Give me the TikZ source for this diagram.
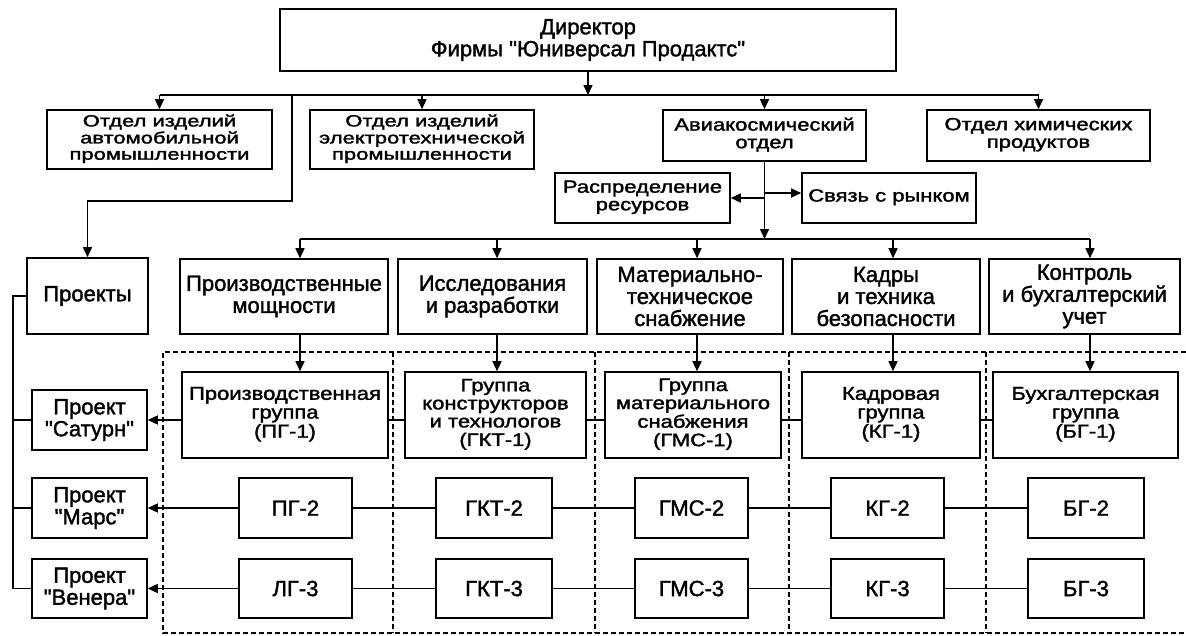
\documentclass[tikz,border=0pt]{standalone}
\usepackage{fontspec}
\setmainfont{Liberation Sans}[Ligatures=TeXOff,FakeBold=1.6]
\usetikzlibrary{arrows.meta}
\newcommand\sqz[2][0.8]{\scalebox{1}[#1]{\begin{tabular}{@{}c@{}}#2\end{tabular}}}
\newcommand\bx[6]{\node[box, minimum width={(#4)-(#2)}, minimum height={(#5)-(#3)}] (#1) at ({((#2)+(#4))/2},{((#3)+(#5))/2}) {#6};}
\begin{document}
\begin{tikzpicture}[x=1pt,y=-1pt,
  box/.style={draw, line width=1.6pt, inner sep=0pt, align=center, font=\fontsize{22}{22}\selectfont},
  arr/.style={line width=1.5pt, -{Triangle[length=10pt,width=9pt]}},
  ln/.style={line width=1.5pt},
  dsh/.style={line width=1.3pt, dash pattern=on 5pt off 3pt}]
\useasboundingbox (0,0) rectangle (1186,635);
\fill[white] (0,0) rectangle (1186,635);
% dashed frame
\draw[dsh] (1186,352) -- (163,352) -- (163,633) -- (1186,633);
\foreach \x in {393,595,789,986} \draw[dsh] (\x,352) -- (\x,633);
% boxes
\bx{dir}{280}{9}{896}{71}{Директор\\Фирмы "Юниверсал Продактс"}
\bx{auto}{47}{110}{272}{169}{\sqz[0.74]{Отдел изделий\\автомобильной\\промышленности}}
\bx{elec}{310}{110}{534}{169}{\sqz[0.74]{Отдел изделий\\электротехнической\\промышленности}}
\bx{avia}{663}{110}{866}{161}{\sqz{Авиакосмический\\отдел}}
\bx{chem}{927}{110}{1150}{161}{\sqz{Отдел химических\\продуктов}}
\bx{rasp}{555}{173}{730}{223}{\sqz{Распределение\\ресурсов}}
\bx{svz}{802}{173}{976}{223}{\sqz{Связь с рынком}}
\bx{proj}{27}{258}{148}{334}{Проекты}
\bx{prod}{180}{259}{388}{334}{Производственные\\мощности}
\bx{res}{398}{259}{587}{334}{Исследования\\и разработки}
\bx{mat}{597}{259}{783}{334}{Материально-\\техническое\\снабжение}
\bx{kad}{792}{259}{980}{334}{Кадры\\и техника\\безопасности}
\bx{kon}{989}{259}{1180}{334}{Контроль\\и бухгалтерский\\учет}
\bx{pg1}{182}{372}{388}{458}{\sqz[0.85]{Производственная\\группа\\(ПГ-1)}}
\bx{gkt1}{405}{372}{586}{458}{\sqz[0.82]{Группа\\конструкторов\\и технологов\\(ГКТ-1)}}
\bx{gms1}{605}{372}{781}{458}{\sqz[0.82]{Группа\\материального\\снабжения\\(ГМС-1)}}
\bx{kg1}{802}{372}{980}{458}{\sqz[0.85]{Кадровая\\группа\\(КГ-1)}}
\bx{bg1}{993}{372}{1178}{458}{\sqz[0.85]{Бухгалтерская\\группа\\(БГ-1)}}
\bx{sat}{32}{390}{147}{450}{Проект\\"Сатурн"}
\bx{mars}{32}{478}{147}{538}{Проект\\"Марс"}
\bx{ven}{32}{559}{147}{618}{Проект\\"Венера"}
\bx{pg2}{239}{478}{352}{538}{ПГ-2}
\bx{gkt2}{436}{478}{552}{538}{ГКТ-2}
\bx{gms2}{635}{478}{748}{538}{ГМС-2}
\bx{kg2}{831}{478}{944}{538}{КГ-2}
\bx{bg2}{1028}{478}{1144}{538}{БГ-2}
\bx{pg3}{239}{559}{352}{618}{ЛГ-3}
\bx{gkt3}{436}{559}{552}{618}{ГКТ-3}
\bx{gms3}{635}{559}{748}{618}{ГМС-3}
\bx{kg3}{831}{559}{944}{618}{КГ-3}
\bx{bg3}{1028}{559}{1144}{618}{БГ-3}
% top bus
\coordinate (b1) at (0,95);
\draw[ln] (auto.north |- b1) -- (chem.north |- b1);
\draw[arr] (dir.south) -- (dir.south |- b1);
\foreach \n in {auto,elec,avia,chem} \draw[arr] (\n.north |- b1) -- (\n.north);
% to projects
\coordinate (pv) at (292,95);
\coordinate (ph) at (292,201);
\draw[arr] (pv) -- (ph) -| (proj.north);
% aviation department
\coordinate (b2) at (0,239);
\draw[arr] (avia.south) -- (avia.south |- b2);
\draw[arr] (avia.south |- rasp.east) -- (rasp.east);
\coordinate (sv) at ([yshift=5pt]svz.west);
\draw[arr] (avia.south |- sv) -- (sv);
% second bus
\coordinate (a1) at (300,239);
\coordinate (a2) at (497,239);
\coordinate (a3) at (697,239);
\coordinate (a4) at (893,239);
\coordinate (a5) at (1090,239);
\draw[ln] (a1) -- (a5);
\draw[arr] (a1) -- (a1 |- prod.north);
\draw[arr] (a2) -- (a2 |- res.north);
\draw[arr] (a3) -- (a3 |- mat.north);
\draw[arr] (a4) -- (a4 |- kad.north);
\draw[arr] (a5) -- (a5 |- kon.north);
\draw[arr] (a1 |- prod.south) -- (a1 |- pg1.north);
\draw[arr] (a2 |- res.south) -- (a2 |- gkt1.north);
\draw[arr] (a3 |- mat.south) -- (a3 |- gms1.north);
\draw[arr] (a4 |- kad.south) -- (a4 |- kg1.north);
\draw[arr] (a5 |- kon.south) -- (a5 |- bg1.north);
% project rows
\draw[arr] (pg1.west |- sat.east) -- (sat.east);
\draw[ln] (pg1.east |- sat.east) -- (gkt1.west |- sat.east);
\draw[ln] (gkt1.east |- sat.east) -- (gms1.west |- sat.east);
\draw[ln] (gms1.east |- sat.east) -- (kg1.west |- sat.east);
\draw[ln] (kg1.east |- sat.east) -- (bg1.west |- sat.east);
\draw[arr] (pg2.west) -- (mars.east);
\draw[ln] (pg2.east) -- (gkt2.west);
\draw[ln] (gkt2.east) -- (gms2.west);
\draw[ln] (gms2.east) -- (kg2.west);
\draw[ln] (kg2.east) -- (bg2.west);
\draw[arr] (pg3.west) -- (ven.east);
\draw[ln] (pg3.east) -- (gkt3.west);
\draw[ln] (gkt3.east) -- (gms3.west);
\draw[ln] (gms3.east) -- (kg3.west);
\draw[ln] (kg3.east) -- (bg3.west);
% left line of projects
\coordinate (lx) at (13,0);
\draw[ln] (proj.west) -| (lx |- ven.west) -- (ven.west);
\draw[ln] (sat.west) -- (sat.west -| lx);
\draw[ln] (mars.west) -- (mars.west -| lx);
\end{tikzpicture}
\end{document}
